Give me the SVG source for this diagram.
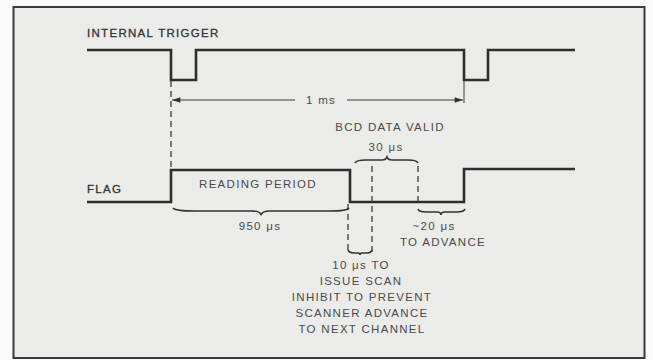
<svg xmlns="http://www.w3.org/2000/svg" width="653" height="360" viewBox="0 0 653 360">
<defs>
<style>
.sig{fill:none;stroke:#2e2e2e;stroke-width:2.6;stroke-linejoin:miter}
.dash{fill:none;stroke:#3a3a3a;stroke-width:1.3;stroke-dasharray:6,4}
.thin{fill:none;stroke:#3a3a3a;stroke-width:1}
.brace{fill:none;stroke:#333;stroke-width:1.6}
text{font-family:"Liberation Sans",Arial,sans-serif;font-size:11.5px;fill:#4a4a4a;letter-spacing:1.3px}
.c{text-anchor:middle}
.b{fill:#333;stroke:#333;stroke-width:0.3}
</style>
<marker id="ah" viewBox="0 0 12 10" refX="12" refY="5" markerWidth="12" markerHeight="7" orient="auto-start-reverse" markerUnits="userSpaceOnUse">
<path d="M0,1 L12,5 L0,9 z" fill="#333"/>
</marker>
</defs>
<rect x="0" y="0" width="653" height="360" fill="#fafafa"/>
<rect x="13.5" y="7" width="631" height="351" fill="#ebebe9" stroke="#3a3a3a" stroke-width="2"/>

<g id="internal-trigger">
<text x="87" y="37" class="b">INTERNAL TRIGGER</text>
<path class="sig" d="M87,50 H171 V80 H196 V50 H464 V80 H488 V50 H575"/>
</g>

<g id="flag">
<text x="87" y="193" class="b">FLAG</text>
<path class="sig" d="M87,202 H171 V170 H350 V202 H464 V169 H575"/>
</g>

<g id="connectors">
<path class="dash" d="M171,81 V170"/>
<path class="thin" d="M464,81 V103"/>
<path class="thin" d="M172,100 H295" marker-start="url(#ah)"/>
<path class="thin" d="M347,100 H463" marker-end="url(#ah)"/>
<path class="dash" d="M348,204 V254"/>
<path class="dash" d="M372,166 V254"/>
<path class="dash" d="M418,166 V201"/>
</g>

<g id="one-ms">
<text x="321" y="104" class="c">1 ms</text>
</g>

<g id="reading-period">
<text x="258" y="188" class="c">READING PERIOD</text>
<path class="brace" d="M173,208 Q175,211 195,211 L252,211 Q260,211 261,215 Q262,211 270,211 L330,211 Q347,211 349,208"/>
<text x="260" y="230" class="c">950 μs</text>
</g>

<g id="bcd-data-valid">
<text x="390" y="131" class="c">BCD DATA VALID</text>
<text x="386" y="151" class="c">30 μs</text>
<path class="brace" d="M355,163 Q356,160 366,160 L382,160 Q386,160 387,157 Q388,160 392,160 L408,160 Q417,160 418,163"/>
</g>

<g id="ten-us">
<path class="brace" d="M348,250 Q349,253 354,253 L358,253 Q360,253 360,255 Q360,253 362,253 L367,253 Q371,253 372,250"/>
<text x="361" y="269" class="c">10 μs TO</text>
<text x="361" y="285" class="c">ISSUE SCAN</text>
<text x="362" y="301" class="c">INHIBIT TO PREVENT</text>
<text x="362" y="317" class="c">SCANNER ADVANCE</text>
<text x="362" y="333" class="c">TO NEXT CHANNEL</text>
</g>

<g id="twenty-us">
<path class="brace" d="M418,209 Q419,212 426,212 L437,212 Q441,212 441,215 Q441,212 445,212 L457,212 Q464,212 465,209"/>
<text x="434" y="230" class="c">~20 μs</text>
<text x="443" y="246" class="c">TO ADVANCE</text>
</g>
</svg>
